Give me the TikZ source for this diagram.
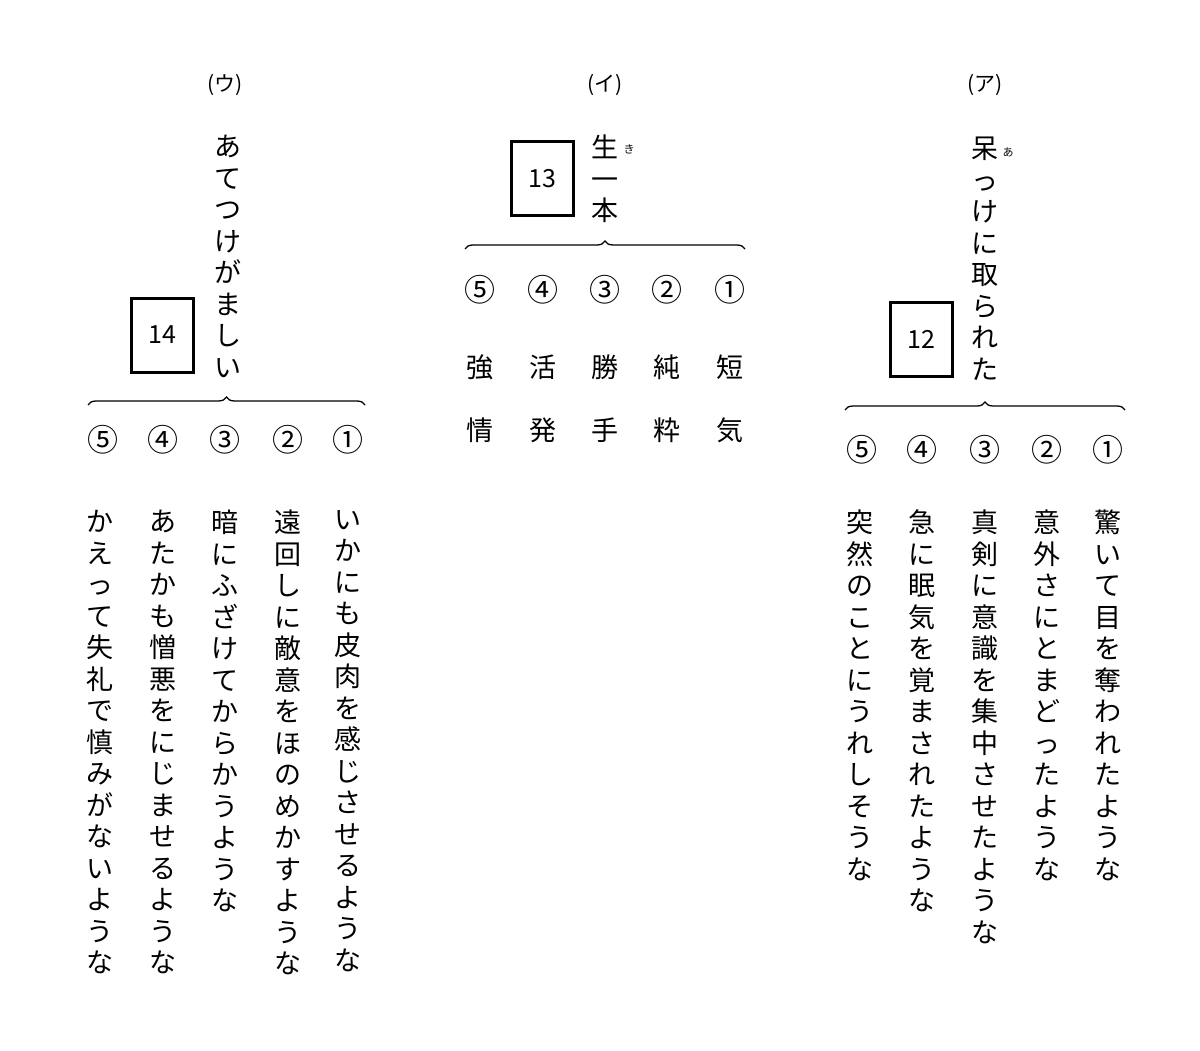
\documentclass[tikz,border=0pt]{standalone}
\usepackage{fontspec}
\newfontfamily\jp[RawFeature={vert}]{Noto Sans CJK JP}
\usetikzlibrary{decorations.pathreplacing}
\tikzstyle{vcol} = [anchor=north, align=center, inner sep=0pt, font=\jp\fontsize{27}{31.5}\selectfont]
\tikzstyle{num} = [inner sep=0pt, font=\jp\fontsize{31}{32}\selectfont]
\tikzstyle{ruby} = [inner sep=0pt, font=\jp\fontsize{11}{12}\selectfont]
\tikzstyle{blank} = [draw=black, line width=3pt, minimum width=62pt, minimum height=74pt]
\tikzstyle{brace} = [decorate, decoration={brace, amplitude=8pt}, line width=1.3pt]
\def\vst#1{\ifx#1\relax\else#1\\\expandafter\vst\fi}
\newcommand{\vcol}[1]{\vst#1\relax}
\begin{document}
\begin{tikzpicture}[x=1pt, y=-1pt]
		\useasboundingbox (0,0) rectangle (1200,1051);
		% (ウ)
		\node (labelU) [num, font=\jp\fontsize{21}{22}\selectfont] at (225,85) {(ウ)};
		\node (titleU) [vcol] at (228,135) {\vcol{あてつけがましい}};
		\node (boxU) [blank] at (162,335) {\jp\fontsize{25}{26}\selectfont 14};
		\coordinate (braceUa) at (88,405);
		\coordinate (braceUb) at (365,405);
		\draw [brace] (braceUa) -- (braceUb);
		\node (nU5) [num] at (103,440) {⑤};
		\node (nU4) [num] at (163,440) {④};
		\node (nU3) [num] at (225,440) {③};
		\node (nU2) [num] at (288,440) {②};
		\node (nU1) [num] at (348,440) {①};
		\node (optU1) [vcol] at (348,510) {\vcol{いかにも皮肉を感じさせるような}};
		\node (optU2) [vcol] at (288,510) {\vcol{遠回しに敵意をほのめかすような}};
		\node (optU3) [vcol] at (225,510) {\vcol{暗にふざけてからかうような}};
		\node (optU4) [vcol] at (163,510) {\vcol{あたかも憎悪をにじませるような}};
		\node (optU5) [vcol] at (100,510) {\vcol{かえって失礼で慎みがないような}};
		% (イ)
		\node (labelI) [num, font=\jp\fontsize{21}{22}\selectfont] at (605,85) {(イ)};
		\node (titleI) [vcol] at (605,135) {\vcol{生一本}};
		\node (rubyI) [ruby] at (629,149) {き};
		\node (boxI) [blank] at (542,179) {\jp\fontsize{25}{26}\selectfont 13};
		\coordinate (braceIa) at (465,249);
		\coordinate (braceIb) at (745,249);
		\draw [brace] (braceIa) -- (braceIb);
		\node (nI5) [num] at (480,290) {⑤};
		\node (nI4) [num] at (543,290) {④};
		\node (nI3) [num] at (605,290) {③};
		\node (nI2) [num] at (667,290) {②};
		\node (nI1) [num] at (730,290) {①};
		\node (optI5) [vcol, font=\jp\fontsize{27}{63}\selectfont] at (480,355) {強\\情};
		\node (optI4) [vcol, font=\jp\fontsize{27}{63}\selectfont] at (543,355) {活\\発};
		\node (optI3) [vcol, font=\jp\fontsize{27}{63}\selectfont] at (605,355) {勝\\手};
		\node (optI2) [vcol, font=\jp\fontsize{27}{63}\selectfont] at (667,355) {純\\粋};
		\node (optI1) [vcol, font=\jp\fontsize{27}{63}\selectfont] at (730,355) {短\\気};
		% (ア)
		\node (labelA) [num, font=\jp\fontsize{21}{22}\selectfont] at (985,85) {(ア)};
		\node (titleA) [vcol] at (985,137) {\vcol{呆っけに取られた}};
		\node (rubyA) [ruby] at (1008,152) {あ};
		\node (boxA) [blank] at (921,339) {\jp\fontsize{25}{26}\selectfont 12};
		\coordinate (braceAa) at (845,410);
		\coordinate (braceAb) at (1125,410);
		\draw [brace] (braceAa) -- (braceAb);
		\node (nA5) [num] at (862,450) {⑤};
		\node (nA4) [num] at (922,450) {④};
		\node (nA3) [num] at (985,450) {③};
		\node (nA2) [num] at (1047,450) {②};
		\node (nA1) [num] at (1108,450) {①};
		\node (optA1) [vcol] at (1108,510) {\vcol{驚いて目を奪われたような}};
		\node (optA2) [vcol] at (1047,510) {\vcol{意外さにとまどったような}};
		\node (optA3) [vcol] at (985,510) {\vcol{真剣に意識を集中させたような}};
		\node (optA4) [vcol] at (922,510) {\vcol{急に眠気を覚まされたような}};
		\node (optA5) [vcol] at (860,510) {\vcol{突然のことにうれしそうな}};
	\end{tikzpicture}
\end{document}
